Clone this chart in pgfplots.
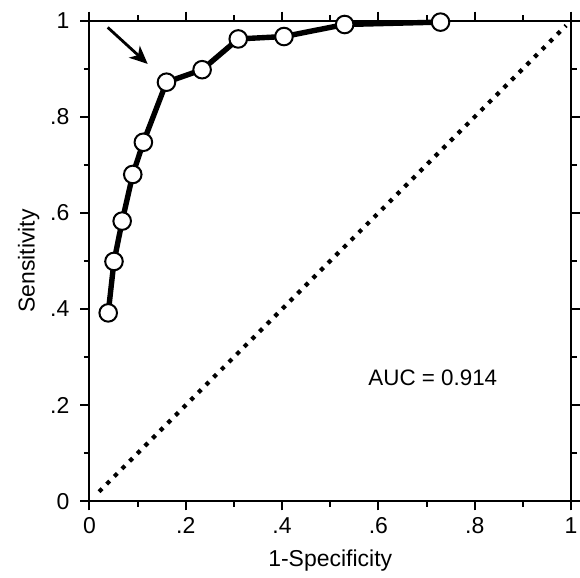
\documentclass[border=0pt]{standalone}
\usepackage{pgfplots}
\pgfplotsset{compat=1.18}
\usepackage{fontspec}
\setmainfont{Liberation Sans}
\usetikzlibrary{arrows.meta}

\begin{document}
\begin{tikzpicture}
  \begin{axis}[
    scale only axis,
    width=241pt, height=240.5pt,
    xmin=0, xmax=1, ymin=0, ymax=1,
    axis line style={line width=1pt},
    tick style={line width=1pt, black},
    tick align=outside,
    major tick length=4.5pt,
    minor tick length=2.8pt,
    xtick={0,0.2,0.4,0.6,0.8,1},
    xticklabels={0,.2,.4,.6,.8,1},
    ytick={0,0.2,0.4,0.6,0.8,1},
    yticklabels={0,.2,.4,.6,.8,1},
    minor tick num=1,
    tick label style={font=\fontsize{11.5}{13}\selectfont},
    yticklabel style={xshift=-2pt},
    label style={font=\fontsize{11.5}{13}\selectfont},
    xlabel={1-Specificity},
    ylabel={Sensitivity},
    xlabel style={at={(axis description cs:0.5,-0.123)}, anchor=center},
    ylabel style={at={(axis description cs:-0.126,0.5)}, anchor=center},
    clip=false,
  ]
    % chance line
    \addplot[black, line width=2.1pt, dash pattern=on 2.1pt off 3.3pt]
      coordinates {(0.02,0.02) (0.99,0.99)};
    % ROC curve
    \addplot[
      black, line width=2.7pt,
      mark=*, mark size=4.4pt,
      mark options={fill=white, draw=black, line width=1pt},
    ] coordinates {
      (0.039,0.392) (0.051,0.499) (0.068,0.583) (0.090,0.680)
      (0.112,0.747) (0.160,0.872) (0.234,0.898) (0.309,0.962)
      (0.404,0.967) (0.530,0.992) (0.729,0.997)
    };
    \draw[-{Stealth[length=9pt,width=8pt,inset=2.5pt]}, line width=1.4pt]
      (axis cs:0.038,0.986) -- (axis cs:0.121,0.910);
    \node[font=\fontsize{11.2}{13}\selectfont] at (axis cs:0.713,0.256) {AUC = 0.914};
    \coordinate (sw) at (rel axis cs:0,0);
    \coordinate (ne) at (rel axis cs:1,1);
  \end{axis}
  \pgfresetboundingbox
  \path ([shift={(-44.75pt,-38pt)}]sw) rectangle ([shift={(4.5pt,10.35pt)}]ne);
\end{tikzpicture}
\end{document}
